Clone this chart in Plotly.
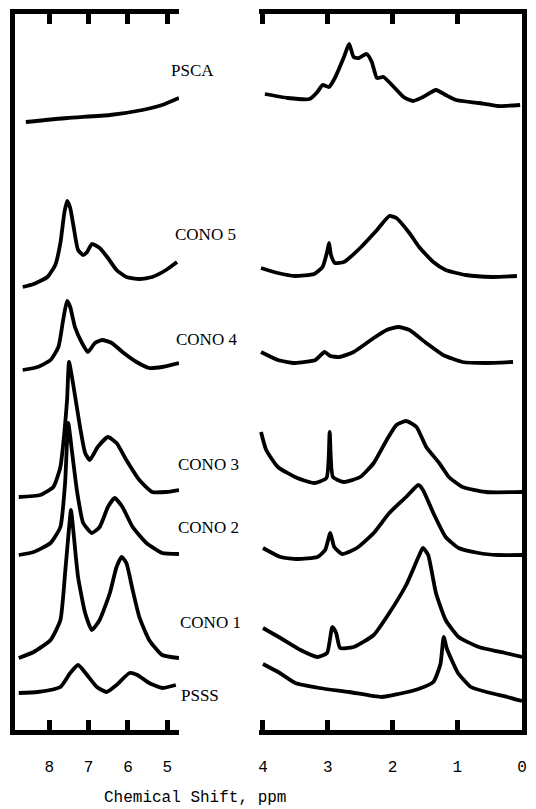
import plotly.graph_objects as go

# ---------------- data (chemical shift in ppm, stacked intensity) ----------------
left_ticks = [8, 7, 6, 5]
right_ticks = [4, 3, 2, 1, 0]

psca_l_ppm = [8.60, 7.55, 6.46, 5.63, 5.13, 4.70]
psca_l_int = [687, 691, 694, 699, 704, 711]
psca_r_ppm = [3.97, 3.62, 3.28, 3.16, 3.08, 2.98, 2.89, 2.75, 2.67, 2.60, 2.52, 2.40, 2.32,
              2.24, 2.14, 1.98, 1.83, 1.68, 1.53, 1.33, 1.18, 1.02, 0.67, 0.37, 0.03]
psca_r_int = [715, 711, 710, 717, 724, 722, 731, 752, 765, 752, 751, 755, 747,
              731, 732, 722, 712, 708, 712, 719, 714, 709, 706, 703, 704]

cono5_l_ppm = [8.68, 8.40, 8.05, 7.85, 7.72, 7.62, 7.55, 7.47, 7.37, 7.27, 7.14, 7.04, 6.92,
               6.72, 6.51, 6.29, 6.04, 5.71, 5.38, 5.03, 4.75]
cono5_l_int = [522, 525, 532, 544, 566, 596, 608, 601, 579, 559, 554, 557, 565,
               561, 551, 539, 532, 530, 532, 539, 547]
cono5_r_ppm = [4.03, 3.77, 3.51, 3.21, 3.08, 3.01, 2.98, 2.95, 2.89, 2.75, 2.50, 2.24, 2.05,
               1.94, 1.74, 1.59, 1.37, 1.18, 0.87, 0.46, 0.08]
cono5_r_int = [541, 536, 533, 535, 542, 557, 566, 554, 546, 547, 561, 579, 593,
               591, 576, 562, 547, 539, 534, 532, 533]

cono4_l_ppm = [8.68, 8.30, 7.97, 7.77, 7.65, 7.55, 7.47, 7.35, 7.17, 7.02, 6.84, 6.66, 6.41,
               6.14, 5.78, 5.46, 5.13, 4.70]
cono4_l_int = [439, 442, 449, 462, 489, 508, 502, 482, 466, 457, 466, 469, 466,
               457, 447, 441, 442, 446]
cono4_r_ppm = [4.03, 3.77, 3.51, 3.19, 3.05, 2.96, 2.82, 2.60, 2.29, 2.09, 1.91, 1.74, 1.48,
               1.22, 0.92, 0.56, 0.14]
cono4_r_int = [457, 449, 446, 449, 457, 453, 452, 457, 471, 479, 482, 479, 466,
               454, 447, 446, 447]

cono3_l_ppm = [8.78, 8.23, 7.90, 7.72, 7.62, 7.55, 7.50, 7.40, 7.22, 7.09, 6.97, 6.77, 6.51,
               6.29, 6.04, 5.71, 5.38, 5.03, 4.70]
cono3_l_int = [312, 314, 322, 342, 376, 409, 447, 426, 382, 356, 349, 362, 372,
               366, 349, 329, 317, 317, 319]
cono3_r_ppm = [4.03, 3.95, 3.77, 3.47, 3.21, 3.02, 2.97, 2.92, 2.75, 2.50, 2.29, 2.09,
               1.94, 1.79, 1.63, 1.48, 1.28, 1.13, 0.92, 0.56, 0.00]
cono3_r_int = [377, 359, 342, 331, 326, 331, 377, 332, 327, 332, 346, 369,
               384, 388, 382, 362, 346, 332, 322, 317, 317]

cono2_l_ppm = [8.78, 8.40, 7.97, 7.72, 7.60, 7.52, 7.42, 7.29, 7.14, 6.92, 6.72, 6.51, 6.34,
               6.14, 5.88, 5.53, 5.13, 4.70]
cono2_l_int = [254, 257, 266, 282, 326, 386, 356, 316, 286, 276, 282, 302, 311,
               302, 282, 266, 256, 255]
cono2_r_ppm = [4.00, 3.73, 3.47, 3.16, 3.04, 2.96, 2.90, 2.78, 2.55, 2.29, 2.05, 1.79, 1.60,
               1.53, 1.37, 1.18, 0.98, 0.67, 0.37, 0.00]
cono2_r_int = [261, 252, 250, 252, 259, 276, 262, 255, 261, 276, 296, 312, 324,
               319, 296, 272, 261, 256, 254, 254]

cono1_l_ppm = [8.78, 8.40, 7.97, 7.72, 7.60, 7.52, 7.45, 7.40, 7.27, 7.09, 6.92, 6.72, 6.46,
               6.29, 6.16, 6.04, 5.88, 5.71, 5.46, 5.13, 4.70]
cono1_l_int = [151, 157, 169, 189, 236, 272, 299, 282, 232, 196, 179, 189, 216,
               242, 252, 246, 219, 192, 169, 154, 151]
cono1_r_ppm = [4.00, 3.73, 3.42, 3.16, 3.01, 2.93, 2.87, 2.81, 2.60, 2.29, 2.05, 1.79, 1.60,
               1.53, 1.45, 1.33, 1.18, 0.98, 0.67, 0.26, 0.00]
cono1_r_int = [181, 171, 159, 152, 156, 182, 176, 161, 162, 174, 196, 224, 252,
               261, 254, 216, 189, 172, 162, 156, 152]

psss_l_ppm = [8.78, 8.30, 7.72, 7.47, 7.27, 7.04, 6.79, 6.54, 6.29, 5.96, 5.76, 5.46, 5.13, 4.78]
psss_l_int = [116, 117, 122, 136, 144, 134, 122, 117, 124, 136, 134, 126, 121, 124]
psss_r_ppm = [4.00, 3.74, 3.50, 3.13, 2.67, 2.17, 1.91, 1.60, 1.37, 1.26, 1.21, 1.16,
              1.08, 0.99, 0.79, 0.49, 0.23, 0.00]
psss_r_int = [145, 136, 126, 121, 117, 112, 115, 120, 127, 145, 172, 160,
              148, 136, 122, 116, 112, 108]

spectra = [
    ("PSCA", psca_l_ppm, psca_l_int, psca_r_ppm, psca_r_int),
    ("CONO 5", cono5_l_ppm, cono5_l_int, cono5_r_ppm, cono5_r_int),
    ("CONO 4", cono4_l_ppm, cono4_l_int, cono4_r_ppm, cono4_r_int),
    ("CONO 3", cono3_l_ppm, cono3_l_int, cono3_r_ppm, cono3_r_int),
    ("CONO 2", cono2_l_ppm, cono2_l_int, cono2_r_ppm, cono2_r_int),
    ("CONO 1", cono1_l_ppm, cono1_l_int, cono1_r_ppm, cono1_r_int),
    ("PSSS", psss_l_ppm, psss_l_int, psss_r_ppm, psss_r_int),
]

# label placement (paper coordinates)
label_pos = {
    "PSCA": (170, 70), "CONO 5": (174, 235), "CONO 4": (175, 339), "CONO 3": (177, 464),
    "CONO 2": (177, 527), "CONO 1": (179, 622), "PSSS": (180, 695),
}

W, H = 536, 809
fig = go.Figure()
line_style = dict(color="black", width=3.8, shape="spline", smoothing=0.5)
for name, lx, ly, rx, ry in spectra:
    fig.add_trace(go.Scatter(x=lx, y=ly, mode="lines", line=line_style, xaxis="x", yaxis="y",
                             showlegend=False, hoverinfo="skip"))
    fig.add_trace(go.Scatter(x=rx, y=ry, mode="lines", line=line_style, xaxis="x2", yaxis="y2",
                             showlegend=False, hoverinfo="skip"))
    px, py = label_pos[name]
    fig.add_annotation(text=name, x=px / W, y=1 - py / H, xref="paper", yref="paper",
                       xanchor="left", yanchor="middle", showarrow=False,
                       font=dict(family="Liberation Serif", size=17, color="black"))

fig.add_annotation(text="Chemical Shift, ppm", x=196 / W, y=1 - 798 / H, xref="paper", yref="paper",
                   xanchor="center", yanchor="middle", showarrow=False,
                   font=dict(family="Liberation Mono", size=16, color="black"))

ydom = [(H - 730) / H, (H - 14) / H]
axis_common = dict(showline=True, linewidth=4.5, linecolor="black", mirror="ticks",
                   ticks="inside", ticklen=10, tickwidth=4.5, tickcolor="black",
                   showgrid=False, zeroline=False, ticklabelstandoff=18,
                   tickfont=dict(family="Liberation Mono", size=16, color="black"))

fig.update_layout(
    width=W, height=H, margin=dict(l=0, r=0, t=0, b=0),
    paper_bgcolor="white", plot_bgcolor="white",
    xaxis=dict(domain=[14 / W, 180 / W], range=[8.88, 4.70], tickvals=left_ticks,
               anchor="y", **axis_common),
    xaxis2=dict(domain=[261 / W, 527 / W], range=[4.06, 0.0], tickvals=right_ticks,
                anchor="y2", **axis_common),
    yaxis=dict(domain=ydom, range=[79, 795], anchor="x", showline=True, linewidth=4.5,
               linecolor="black", showticklabels=False, ticks="", showgrid=False, zeroline=False),
    yaxis2=dict(domain=ydom, range=[79, 795], anchor="x2", side="right", showline=True,
                linewidth=4.5, linecolor="black", showticklabels=False, ticks="",
                showgrid=False, zeroline=False),
)

fig.write_html("out.html", config={"displayModeBar": False},
               post_script="document.body.style.margin='0';document.body.style.padding='0';")
